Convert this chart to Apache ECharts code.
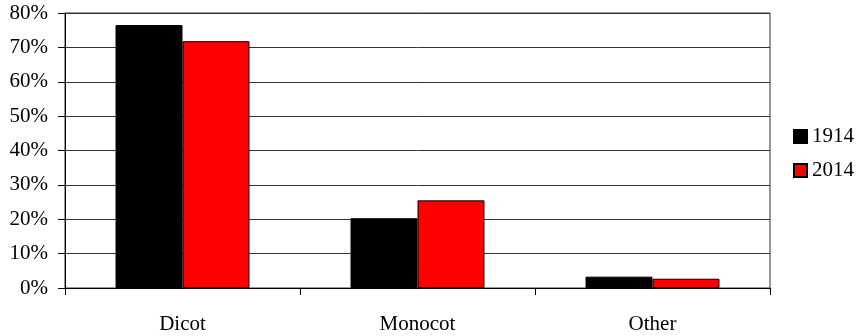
<!DOCTYPE html>
<html>
<head>
<meta charset="utf-8">
<script src="https://cdn.jsdelivr.net/npm/echarts@6/dist/echarts.min.js"></script>
<style>
  html, body { margin: 0; padding: 0; background: #fff; }
  #chart { width: 864px; height: 336px; }
</style>
</head>
<body>
<div id="chart"></div>
<script>
// Share of species by plant group, 1914 vs 2014 (fractions of 1)
const categories = ['Dicot', 'Monocot', 'Other'];
const seriesNames = ['1914', '2014'];
const values1914 = [0.765, 0.203, 0.033];
const values2014 = [0.718, 0.255, 0.027];
const yTicks = { min: 0, max: 0.8, step: 0.1 };

const FONT = "'Liberation Serif', 'Times New Roman', serif";

const chart = echarts.init(document.getElementById('chart'), null, { renderer: 'canvas' });

chart.setOption({
  animation: false,
  backgroundColor: '#ffffff',
  textStyle: { fontFamily: FONT, color: '#000' },
  grid: {
    left: 65, right: 94, top: 13, bottom: 48,
    show: true, borderColor: '#333', borderWidth: 1
  },
  legend: {
    orient: 'vertical',
    left: 793, top: 126,
    padding: 0,
    itemWidth: 13, itemHeight: 13, itemGap: 13,
    icon: 'rect',
    textStyle: { fontFamily: FONT, fontSize: 21, color: '#000' },
    data: seriesNames
  },
  xAxis: {
    type: 'category',
    data: categories,
    axisLine: { show: true, lineStyle: { color: '#000', width: 1 } },
    axisTick: { show: true, length: 7, lineStyle: { color: '#000' } },
    axisLabel: { fontFamily: FONT, fontSize: 21, color: '#000', margin: 26 },
    splitLine: { show: false }
  },
  yAxis: {
    type: 'value',
    min: yTicks.min, max: yTicks.max, interval: yTicks.step,
    axisLine: { show: true, lineStyle: { color: '#000', width: 1 } },
    axisTick: { show: true, length: 7, lineStyle: { color: '#000' } },
    axisLabel: {
      fontFamily: FONT, fontSize: 21, color: '#000', margin: 17,
      formatter: v => Math.round(v * 100) + '%'
    },
    splitLine: { show: true, lineStyle: { color: '#333', width: 1 } }
  },
  series: [
    {
      name: seriesNames[0], type: 'bar', data: values1914,
      barGap: '0%', barCategoryGap: '43%',
      itemStyle: { color: '#000000', borderColor: '#000', borderWidth: 1 }
    },
    {
      name: seriesNames[1], type: 'bar', data: values2014,
      barGap: '0%', barCategoryGap: '43%',
      itemStyle: { color: '#ff0000', borderColor: '#000', borderWidth: 1 }
    }
  ]
});
</script>
</body>
</html>
